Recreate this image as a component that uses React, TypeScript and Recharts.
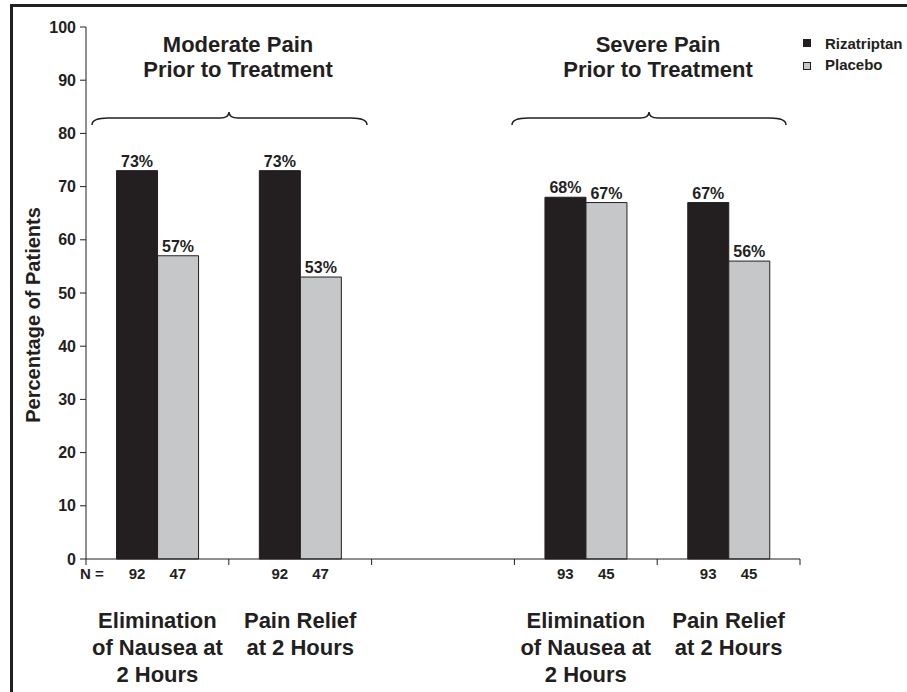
import React from 'react'
import { BarChart, Bar, XAxis, YAxis, LabelList, Customized } from 'recharts'

const groups = ['mod-nausea', 'mod-relief', 'gap', 'sev-nausea', 'sev-relief']
const groupLabels = [
  ['Elimination', 'of Nausea at', '2 Hours'],
  ['Pain Relief', 'at 2 Hours'],
  [],
  ['Elimination', 'of Nausea at', '2 Hours'],
  ['Pain Relief', 'at 2 Hours'],
]
const rizatriptan = [73, 73, null, 68, 67]
const placebo = [57, 53, null, 67, 56]
const nRizatriptan = [92, 92, null, 93, 93]
const nPlacebo = [47, 47, null, 45, 45]
const yTicks = [0, 10, 20, 30, 40, 50, 60, 70, 80, 90, 100]
const seriesNames = ['Rizatriptan', 'Placebo']

const data = groups.map((g, i) => ({
  group: g,
  rizatriptan: rizatriptan[i],
  placebo: placebo[i],
}))

const FONT = '"Liberation Sans", Arial, Helvetica, sans-serif'
const INK = '#231f20'
const GREY = '#c6c7c8'

const W = 907
const H = 692
const MARGIN = { top: 27, right: 107, bottom: 0, left: 0 }
const Y_AXIS_W = 86
const X_AXIS_H = 133
const BAND = (W - Y_AXIS_W - MARGIN.right) / groups.length
const CAT_GAP = 0.214
const BAR_W = (BAND * (1 - 2 * CAT_GAP)) / 2

const GroupTick = ({ x, y, payload, index }: any) => {
  const i = payload?.index ?? index
  const lines = groupLabels[i] || []
  return (
    <g fontFamily={FONT} fill={INK} fontWeight="bold">
      <line x1={x + BAND / 2} x2={x + BAND / 2} y1={y} y2={y + 6} stroke={INK} />
      {i === 0 && (
        <>
          <line x1={x - BAND / 2} x2={x - BAND / 2} y1={y} y2={y + 6} stroke={INK} />
          <text x={x - BAND / 2 - 6} y={y + 20} fontSize={15} textAnchor="start">N =</text>
        </>
      )}
      {nRizatriptan[i] != null && (
        <text x={x - BAR_W / 2} y={y + 20} fontSize={15} textAnchor="middle">{nRizatriptan[i]}</text>
      )}
      {nPlacebo[i] != null && (
        <text x={x + BAR_W / 2} y={y + 20} fontSize={15} textAnchor="middle">{nPlacebo[i]}</text>
      )}
      {lines.map((l, k) => (
        <text key={k} x={x} y={y + 69 + k * 27} fontSize={22} textAnchor="middle">{l}</text>
      ))}
    </g>
  )
}

// curly brace spanning x0..x1 with its point at xm
const brace = (x0: number, xm: number, x1: number, y: number) =>
  `M${x0},${y + 7} Q${x0},${y} ${x0 + 16},${y} L${xm - 9},${y} Q${xm},${y} ${xm},${y - 6} ` +
  `Q${xm},${y} ${xm + 9},${y} L${x1 - 16},${y} Q${x1},${y} ${x1},${y + 7}`

const Annotations = () => (
  <g fontFamily={FONT} fill={INK} fontWeight="bold">
    <text x={238} y={52} fontSize={22} textAnchor="middle">Moderate Pain</text>
    <text x={238} y={77} fontSize={22} textAnchor="middle">Prior to Treatment</text>
    <text x={658} y={52} fontSize={22} textAnchor="middle">Severe Pain</text>
    <text x={658} y={77} fontSize={22} textAnchor="middle">Prior to Treatment</text>
    <path d={brace(92, 229, 367, 118)} fill="none" stroke={INK} strokeWidth={1.5} />
    <path d={brace(512, 649, 786, 118)} fill="none" stroke={INK} strokeWidth={1.5} />
    <text
      x={33}
      y={315}
      fontSize={20}
      textAnchor="middle"
      dominantBaseline="central"
      transform="rotate(-90 33 315)"
    >
      Percentage of Patients
    </text>
    {/* legend */}
    <rect x={803} y={39} width={8} height={8} fill={INK} />
    <text x={825} y={49} fontSize={15}>{seriesNames[0]}</text>
    <rect x={803.5} y={62.5} width={7} height={7} fill={GREY} stroke={INK} />
    <text x={825} y={70} fontSize={15}>{seriesNames[1]}</text>
  </g>
)

export default function App() {
  return (
    <div style={{ position: 'absolute', left: 0, top: 0, width: W, height: H, background: '#fff' }}>
      <div
        style={{
          position: 'absolute',
          left: 10,
          top: 4,
          width: W - 10,
          height: H - 4,
          borderTop: `3px solid ${INK}`,
          borderLeft: `3px solid ${INK}`,
          boxSizing: 'border-box',
        }}
      />
      <BarChart
        width={W}
        height={H}
        data={data}
        margin={MARGIN}
        barCategoryGap={`${CAT_GAP * 100}%`}
        barGap={0}
        style={{ fontFamily: FONT }}
      >
        <XAxis
          dataKey="group"
          height={X_AXIS_H}
          tickLine={false}
          tickSize={0}
          tickMargin={0}
          interval={0}
          axisLine={{ stroke: INK }}
          tick={<GroupTick />}
        />
        <YAxis
          width={Y_AXIS_W}
          domain={[0, 100]}
          ticks={yTicks}
          interval={0}
          tickSize={6}
          tickMargin={4}
          axisLine={{ stroke: INK }}
          tickLine={{ stroke: INK }}
          tick={{ fill: INK, fontSize: 16, fontWeight: 'bold', fontFamily: FONT }}
        />
        <Bar dataKey="rizatriptan" name={seriesNames[0]} fill={INK} stroke={INK} isAnimationActive={false}>
          <LabelList
            dataKey="rizatriptan"
            position="top"
            offset={4}
            formatter={(v: any) => (v == null ? '' : `${v}%`)}
            style={{ fill: INK, fontSize: 16, fontWeight: 'bold', fontFamily: FONT }}
          />
        </Bar>
        <Bar dataKey="placebo" name={seriesNames[1]} fill={GREY} stroke={INK} isAnimationActive={false}>
          <LabelList
            dataKey="placebo"
            position="top"
            offset={4}
            formatter={(v: any) => (v == null ? '' : `${v}%`)}
            style={{ fill: INK, fontSize: 16, fontWeight: 'bold', fontFamily: FONT }}
          />
        </Bar>
        <Customized component={Annotations} />
      </BarChart>
    </div>
  )
}
